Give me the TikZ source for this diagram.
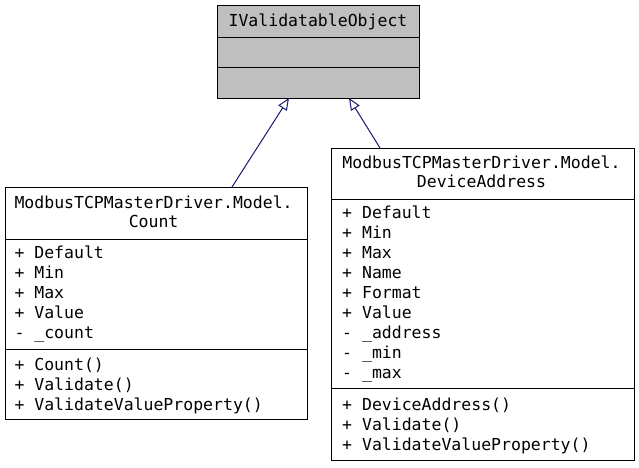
\documentclass[tikz,border=0pt]{standalone}
\usepackage{fontspec}
\setmonofont{DejaVu Sans Mono}
\usetikzlibrary{arrows.meta}

\definecolor{edgeblue}{RGB}{25,25,112}
\definecolor{ifacegray}{RGB}{191,191,191}

\tikzset{
  txt/.style={inner sep=0pt,font=\ttfamily\fontsize{16.5}{20}\selectfont},
  member/.style={txt,anchor=base west},
  title/.style={txt,anchor=base},
  classbox/.style={draw,line width=1pt,anchor=north west,inner sep=0pt},
  inherit/.style={edgeblue,line width=1pt,-{Triangle[open,length=12pt,width=10pt,fill=white]}}
}

\begin{document}
\begin{tikzpicture}[x=1pt,y=-1pt]
        \useasboundingbox (0,0) rectangle (639,467);

        % IValidatableObject
        \node[classbox,fill=ifacegray,minimum width=202pt,minimum height=93pt] (iface) at (217,5) {};
        \draw[line width=1pt] (217,37) -- (419,37);
        \draw[line width=1pt] (217,67) -- (419,67);
        \node[title] (ifacename) at (318,26) {IValidatableObject};

        % Count
        \node[classbox,fill=white,minimum width=302pt,minimum height=232pt] (count) at (5,187) {};
        \draw[line width=1pt] (5,239) -- (307,239);
        \draw[line width=1pt] (5,349) -- (307,349);
        \node[title] (countname1) at (153.6,208.3) {ModbusTCPMasterDriver.Model.};
        \node[title] (countname2) at (153.6,227.7) {Count};
        \foreach \t [count=\i] in {+ Default,+ Min,+ Max,+ Value,- \_count}
            \node[member] (counta\i) at (14.3,238.5+20*\i) {\t};
        \foreach \t [count=\i] in {+ Count(),+ Validate(),+ ValidateValueProperty()}
            \node[member] (countm\i) at (14.3,350+20*\i) {\t};

        % DeviceAddress
        \node[classbox,fill=white,minimum width=303pt,minimum height=312pt] (devaddr) at (331,148) {};
        \draw[line width=1pt] (331,199) -- (634,199);
        \draw[line width=1pt] (331,388) -- (634,388);
        \node[title] (devname1) at (481.5,168.3) {ModbusTCPMasterDriver.Model.};
        \node[title] (devname2) at (481.5,187.7) {DeviceAddress};
        \foreach \t [count=\i] in {+ Default,+ Min,+ Max,+ Name,+ Format,+ Value,- \_address,- \_min,- \_max}
            \node[member] (deva\i) at (342,198.3+20*\i) {\t};
        \foreach \t [count=\i] in {+ DeviceAddress(),+ Validate(),+ ValidateValueProperty()}
            \node[member] (devm\i) at (342,390+20*\i) {\t};

        % inheritance
        \coordinate (countup) at (232,187);
        \coordinate (devup) at (380,148);
        \coordinate (ifaceleft) at (289,98);
        \coordinate (ifaceright) at (349,98);
        \draw[inherit] (countup) -- (ifaceleft);
        \draw[inherit] (devup) -- (ifaceright);
    \end{tikzpicture}
\end{document}
